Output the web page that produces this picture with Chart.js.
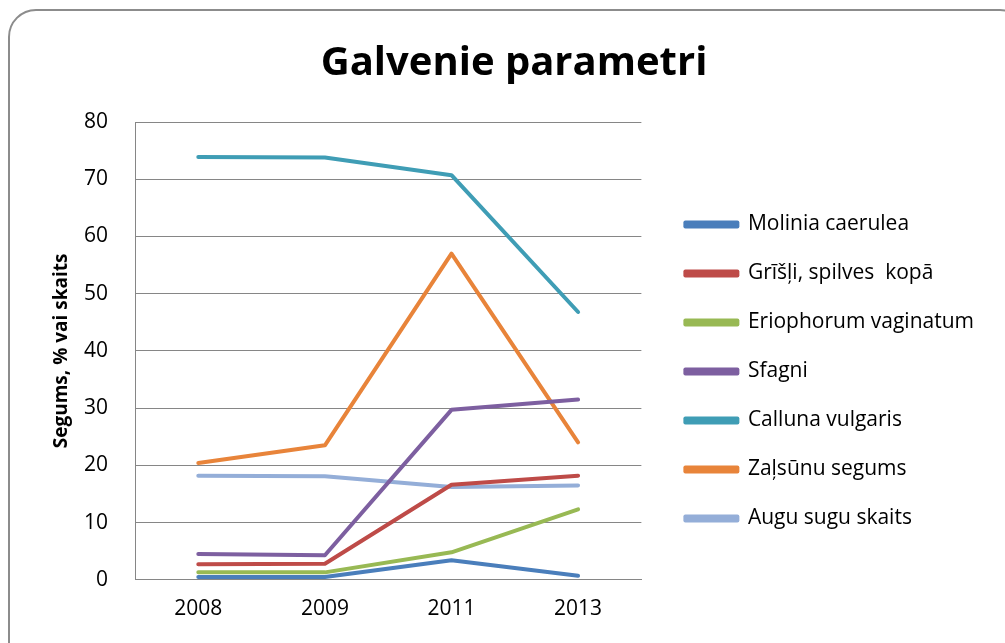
<!DOCTYPE html>
<html>
<head>
<meta charset="utf-8">
<script src="https://cdn.jsdelivr.net/npm/chart.js@4"></script>
<style>
  html, body { margin: 0; padding: 0; background: #fff; overflow: hidden; }
  #frame {
    position: absolute; left: 8px; top: 9px; width: 1020px; height: 670px;
    border: 2px solid #8c8c8c; border-radius: 28px; box-sizing: border-box;
  }
  #wrap { position: absolute; left: 0; top: 0; width: 1005px; height: 643px; }
</style>
</head>
<body>
<div id="frame"></div>
<div id="wrap"><canvas id="chart" width="1005" height="643"></canvas></div>
<script>
// gadi un mērījumi
const gadi = ['2008', '2009', '2011', '2013'];
const molinia = [0.5, 0.5, 3.4, 0.7];
const grisli = [2.7, 2.8, 16.6, 18.2];
const eriophorum = [1.3, 1.3, 4.8, 12.3];
const sfagni = [4.5, 4.3, 29.7, 31.5];
const calluna = [73.9, 73.8, 70.7, 46.8];
const zalsunas = [20.4, 23.5, 57.0, 24.0];
const auguSkaits = [18.2, 18.1, 16.2, 16.5];

const fonts = '"Open Sans", Calibri, "DejaVu Sans", sans-serif';

function serija(nosaukums, dati, krasa) {
    return {
        label: nosaukums,
        data: dati,
        borderColor: krasa,
        backgroundColor: krasa,
        borderWidth: 4,
        borderCapStyle: 'round',
        borderJoinStyle: 'round',
        pointRadius: 0,
        tension: 0
    };
}

// leģendu un virsrakstu pabīda kā Excel attēlā
const novietojums = {
    id: 'novietojums',
    afterLayout(chart) {
        const lg = chart.legend;
        const dx = (chart.chartArea.right + 16) - lg.left;
        lg.left += dx; lg.right += dx;
        lg.top += 32; lg.bottom += 32;
        const t = chart.titleBlock;
        t.left += 10; t.right += 10;
    }
};

new Chart(document.getElementById('chart'), {
    type: 'line',
    data: {
        labels: gadi,
        datasets: [
            serija('Molinia caerulea', molinia, '#4a7ebb'),
            serija('Grīšļi, spilves  kopā', grisli, '#be4b48'),
            serija('Eriophorum vaginatum', eriophorum, '#98b954'),
            serija('Sfagni', sfagni, '#7d5fa0'),
            serija('Calluna vulgaris', calluna, '#3f9db5'),
            serija('Zaļsūnu segums', zalsunas, '#e8843a'),
            serija('Augu sugu skaits', auguSkaits, '#94aed8')
        ]
    },
    plugins: [novietojums],
    options: {
        responsive: false,
        animation: false,
        layout: { padding: { left: 40, right: 37, top: 40, bottom: 4 } },
        plugins: {
            title: {
                display: true,
                text: 'Galvenie parametri',
                color: '#000',
                font: { family: fonts, size: 40, weight: 'bold' },
                padding: { top: 0, bottom: 34 }
            },
            legend: {
                position: 'right',
                maxWidth: 420,
                labels: {
                    color: '#000',
                    font: { family: fonts, size: 21 },
                    boxWidth: 52,
                    boxHeight: 4,
                    padding: 28
                }
            },
            tooltip: { enabled: false }
        },
        scales: {
            x: {
                offset: true,
                grid: { display: false, drawTicks: false },
                border: { color: '#868686', width: 1 },
                ticks: { color: '#000', font: { family: fonts, size: 21 }, padding: 17 }
            },
            y: {
                min: 0,
                max: 80,
                afterFit(scale) { scale.width = 95; },
                ticks: { stepSize: 10, color: '#000', font: { family: fonts, size: 21 }, padding: 27 },
                grid: { color: '#868686', lineWidth: 1, drawTicks: false },
                border: { color: '#868686', width: 1 },
                title: {
                    display: true,
                    text: 'Segums, % vai skaits',
                    color: '#000',
                    font: { family: fonts, size: 19, weight: 'bold' },
                    padding: { top: 10, bottom: 0 }
                }
            }
        }
    }
});
</script>
</body>
</html>
